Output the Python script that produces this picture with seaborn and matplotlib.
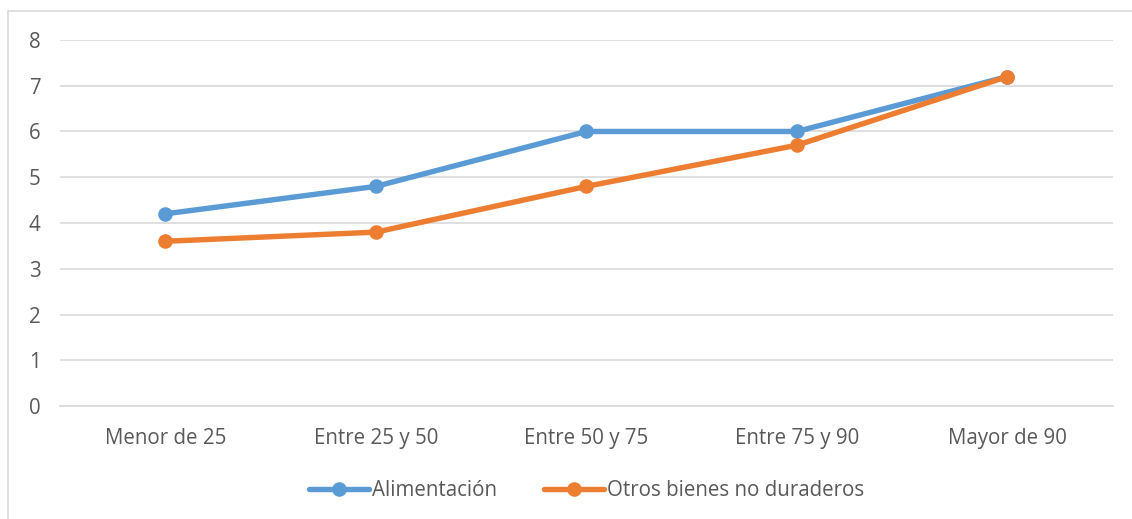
import matplotlib
matplotlib.use("Agg")
import matplotlib.pyplot as plt
import matplotlib.patches as mpatches
import seaborn as sns
import pandas as pd

categorias = ["Menor de 25", "Entre 25 y 50", "Entre 50 y 75", "Entre 75 y 90", "Mayor de 90"]
alimentacion = [4.2, 4.8, 6.0, 6.0, 7.2]
otros = [3.6, 3.8, 4.8, 5.7, 7.2]
series = ["Alimentación", "Otros bienes no duraderos"]
colores = ["#5B9BD5", "#ED7D31"]

df = pd.DataFrame({
    "categoria": categorias * 2,
    "pos": list(range(len(categorias))) * 2,
    "valor": alimentacion + otros,
    "serie": [series[0]] * len(categorias) + [series[1]] * len(categorias),
})

sns.set_style("white")
plt.rcParams["font.family"] = ["Open Sans", "DejaVu Sans"]

fig = plt.figure(figsize=(11.32, 5.19), dpi=100)
ax = fig.add_axes([0.053, 0.2177, 0.930, 0.7053])

sns.lineplot(data=df, x="pos", y="valor", hue="serie", palette=colores,
             marker="o", markersize=10.5, markeredgewidth=0, linewidth=3.9,
             ax=ax, legend=True)

ax.set_xlim(-0.5, len(categorias) - 0.5)
ax.set_ylim(0, 8)
ax.set_yticks(range(0, 9))
ax.set_xticks(range(len(categorias)))
ax.set_xticklabels(categorias)
ax.set_xlabel("")
ax.set_ylabel("")
ax.grid(axis="y", color="#D9D9D9", linewidth=1.2)
ax.set_axisbelow(True)
for s in ["top", "right", "left"]:
    ax.spines[s].set_visible(False)
ax.spines["bottom"].set_color("#D9D9D9")
ax.spines["bottom"].set_linewidth(1.2)
ax.tick_params(axis="both", length=0, labelsize=14.8, labelcolor="#595959")
ax.tick_params(axis="x", pad=16)
ax.tick_params(axis="y", pad=14)

leg = ax.legend(loc="center", bbox_to_anchor=(0.5, -0.232), ncol=2, frameon=False,
                fontsize=14.8, handlelength=2.9, columnspacing=2.3, handletextpad=0.15)
for t in leg.get_texts():
    t.set_color("#595959")

fig.patches.append(mpatches.Rectangle((8 / 1132, -0.1), 1.2, 1 - 11 / 519 + 0.1,
                                      transform=fig.transFigure, fill=False,
                                      edgecolor="#D9D9D9", linewidth=1.2))

fig.savefig("out.png", dpi=100)
